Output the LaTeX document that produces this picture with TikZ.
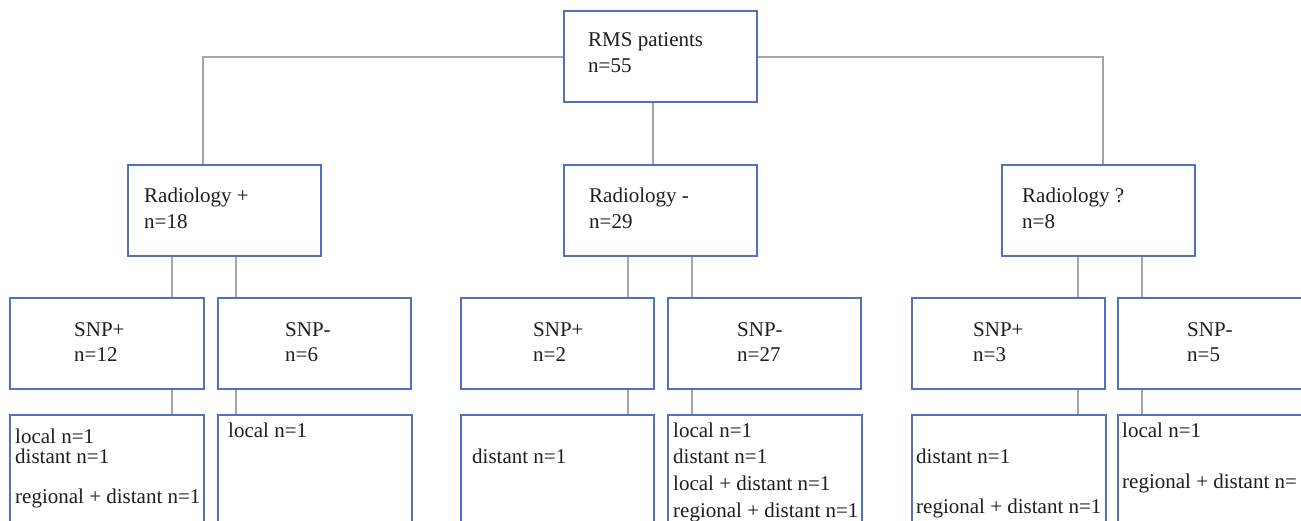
\documentclass[tikz,border=0pt]{standalone}
\usepackage{fontspec}
\setmainfont{Liberation Serif}
\definecolor{boxblue}{RGB}{78,114,196}
\definecolor{linegrey}{RGB}{165,165,165}
\definecolor{txtcol}{RGB}{30,30,30}
\tikzset{
  box/.style={draw=boxblue, line width=1.5pt, fill=white, rectangle, inner sep=0pt,
    minimum width=193pt, minimum height=91pt, anchor=north west},
  leaf/.style={draw=boxblue, line width=1.5pt, fill=white, rectangle, inner sep=0pt,
    minimum width=194pt, minimum height=130pt, anchor=north west},
  txt/.style={anchor=base west, inner sep=0pt, text=txtcol,
    font=\rmfamily\fontsize{21}{25}\selectfont},
  conn/.style={draw=linegrey, line width=2pt}
}
\begin{document}
\begin{tikzpicture}[x=1pt,y=-1pt]
\clip (0,0) rectangle (1301,520);
\fill[white] (0,0) rectangle (1301,520);
\coordinate (cl) at (203,57);
\coordinate (cr) at (1103,57);
% boxes
\node[box] (rms) at (563,10) {};
\node[box] (radp) at (127,164) {};
\node[box] (radm) at (563,164) {};
\node[box] (radq) at (1001,164) {};
\node[box, minimum width=194pt] (s1) at (9,297) {};
\node[box] (s2) at (217,297) {};
\node[box] (s3) at (460,297) {};
\node[box] (s4) at (667,297) {};
\node[box] (s5) at (911,297) {};
\node[box] (s6) at (1117,297) {};
\node[leaf] (b1) at (9,414) {};
\node[leaf] (b2) at (217,414) {};
\node[leaf, minimum width=193pt] (b3) at (460,414) {};
\node[leaf] (b4) at (667,414) {};
\node[leaf] (b5) at (911,414) {};
\node[leaf] (b6) at (1117,414) {};
% connectors
\draw[conn] (rms.west |- cl) -- (cl) -- (cl |- radp.north);
\draw[conn] (rms.east |- cr) -- (cr) -- (cr |- radq.north);
\draw[conn] ([xshift=90pt]rms.south west) -- ([xshift=90pt]rms.south west |- radm.north);
% radiology -> SNP
\draw[conn] ([xshift=45pt]radp.south west) -- ([xshift=45pt]radp.south west |- s1.north);
\draw[conn] ([xshift=109pt]radp.south west) -- ([xshift=109pt]radp.south west |- s2.north);
\draw[conn] ([xshift=65pt]radm.south west) -- ([xshift=65pt]radm.south west |- s3.north);
\draw[conn] ([xshift=129pt]radm.south west) -- ([xshift=129pt]radm.south west |- s4.north);
\draw[conn] ([xshift=77pt]radq.south west) -- ([xshift=77pt]radq.south west |- s5.north);
\draw[conn] ([xshift=141pt]radq.south west) -- ([xshift=141pt]radq.south west |- s6.north);
% SNP -> outcomes
\draw[conn] ([xshift=163pt]s1.south west) -- ([xshift=163pt]s1.south west |- b1.north);
\draw[conn] ([xshift=19pt]s2.south west) -- ([xshift=19pt]s2.south west |- b2.north);
\draw[conn] ([xshift=168pt]s3.south west) -- ([xshift=168pt]s3.south west |- b3.north);
\draw[conn] ([xshift=25pt]s4.south west) -- ([xshift=25pt]s4.south west |- b4.north);
\draw[conn] ([xshift=167pt]s5.south west) -- ([xshift=167pt]s5.south west |- b5.north);
\draw[conn] ([xshift=25pt]s6.south west) -- ([xshift=25pt]s6.south west |- b6.north);
% texts
\node[txt] (t1) at (588,46) {RMS patients};
\node[txt] (t2) at (588,72) {n=55};
\node[txt] (t3) at (144,202) {Radiology +};
\node[txt] (t4) at (144,228) {n=18};
\node[txt] (t5) at (589,202) {Radiology -};
\node[txt] (t6) at (589,228) {n=29};
\node[txt] (t7) at (1022,202) {Radiology ?};
\node[txt] (t8) at (1022,228) {n=8};
\node[txt] (u1) at (74,336) {SNP+};
\node[txt] (u2) at (74,361) {n=12};
\node[txt] (u3) at (285,336) {SNP-};
\node[txt] (u4) at (285,361) {n=6};
\node[txt] (u5) at (533,336) {SNP+};
\node[txt] (u6) at (533,361) {n=2};
\node[txt] (u7) at (737,336) {SNP-};
\node[txt] (u8) at (737,361) {n=27};
\node[txt] (u9) at (973,336) {SNP+};
\node[txt] (u10) at (973,361) {n=3};
\node[txt] (u11) at (1187,336) {SNP-};
\node[txt] (u12) at (1187,361) {n=5};
\node[txt] (v1) at (15,443) {local n=1};
\node[txt] (v2) at (15,463) {distant n=1};
\node[txt] (v3) at (15,503) {regional + distant n=1};
\node[txt] (v4) at (228,437) {local n=1};
\node[txt] (v5) at (472,463) {distant n=1};
\node[txt] (v6) at (673,437) {local n=1};
\node[txt] (v7) at (673,463) {distant n=1};
\node[txt] (v8) at (673,490) {local + distant n=1};
\node[txt] (v9) at (673,517) {regional + distant n=1};
\node[txt] (v10) at (916,463) {distant n=1};
\node[txt] (v11) at (916,513) {regional + distant n=1};
\node[txt] (v12) at (1122,437) {local n=1};
\node[txt] (v13) at (1122,488) {regional + distant n=};
\end{tikzpicture}
\end{document}
